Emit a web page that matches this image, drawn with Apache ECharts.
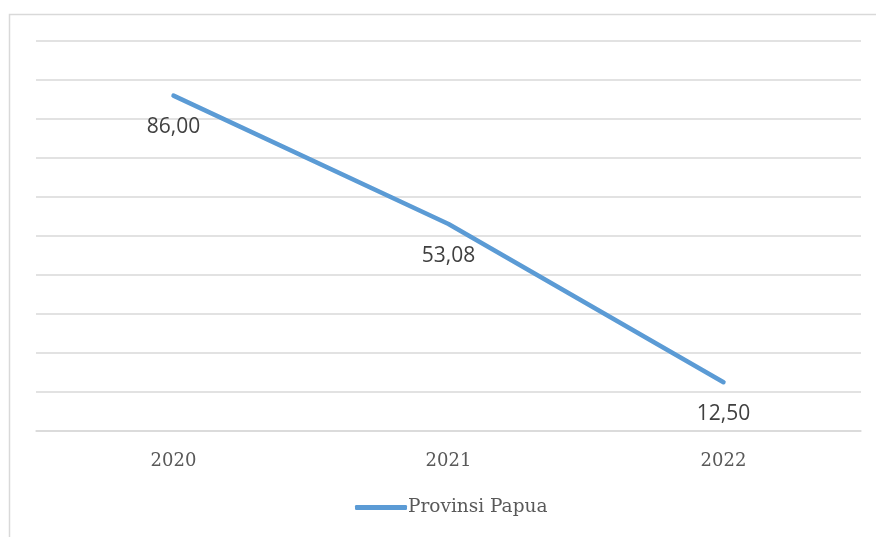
<html>
    <head>
        <meta charset="utf-8">
        <script src="https://cdn.jsdelivr.net/npm/echarts@6/dist/echarts.min.js"></script>
    </head>
    <body>
        <style>
            html, body, #main {
                width: 100%;
                height: 100%;
                margin: 0;
                background: #fff;
            }
        </style>
        <div id='main'></div>
        <script>
        var years = ['2020', '2021', '2022'];
        var papua = [86.00, 53.08, 12.50];
        var seriesName = 'Provinsi Papua';

        var chart = echarts.init(document.getElementById('main'));
        var option = {
            animation: false,
            graphic: [{
                type: 'rect',
                shape: { x: 9.5, y: 14.5, width: 880, height: 540 },
                style: { fill: 'none', stroke: '#d9d9d9', lineWidth: 1.5 }
            }],
            grid: { left: 36, right: 15, top: 41, bottom: 106 },
            legend: {
                bottom: 15,
                left: 350,
                icon: 'roundRect',
                itemWidth: 52,
                itemHeight: 5,
                itemGap: 10,
                textStyle: { fontFamily: 'DejaVu Serif', fontSize: 18.5, color: '#595959', padding: [0, 0, 0, -4] },
                data: [seriesName]
            },
            xAxis: {
                type: 'category',
                data: years,
                boundaryGap: true,
                axisLine: { lineStyle: { color: '#d9d9d9', width: 1.5 } },
                axisTick: { show: false },
                axisLabel: { fontFamily: 'DejaVu Serif', fontSize: 18, color: '#595959', margin: 21 }
            },
            yAxis: {
                type: 'value',
                min: 0,
                max: 100,
                interval: 10,
                axisLabel: { show: false },
                axisLine: { show: false },
                axisTick: { show: false },
                splitLine: { lineStyle: { color: '#d9d9d9', width: 1.5 } }
            },
            series: [{
                name: seriesName,
                type: 'line',
                data: papua,
                symbol: 'circle',
                symbolSize: 0.1,
                showSymbol: true,
                lineStyle: { color: '#5b9bd5', width: 4.5, cap: 'round' },
                itemStyle: { color: '#5b9bd5' },
                label: {
                    show: true,
                    position: 'bottom',
                    distance: 21,
                    fontFamily: 'Open Sans',
                    fontSize: 21,
                    color: '#404040',
                    formatter: function (p) { return p.value.toFixed(2).replace('.', ','); }
                }
            }]
        };
        chart.setOption(option);
        window.onresize = chart.resize;
        </script>
    </body>
</html>
